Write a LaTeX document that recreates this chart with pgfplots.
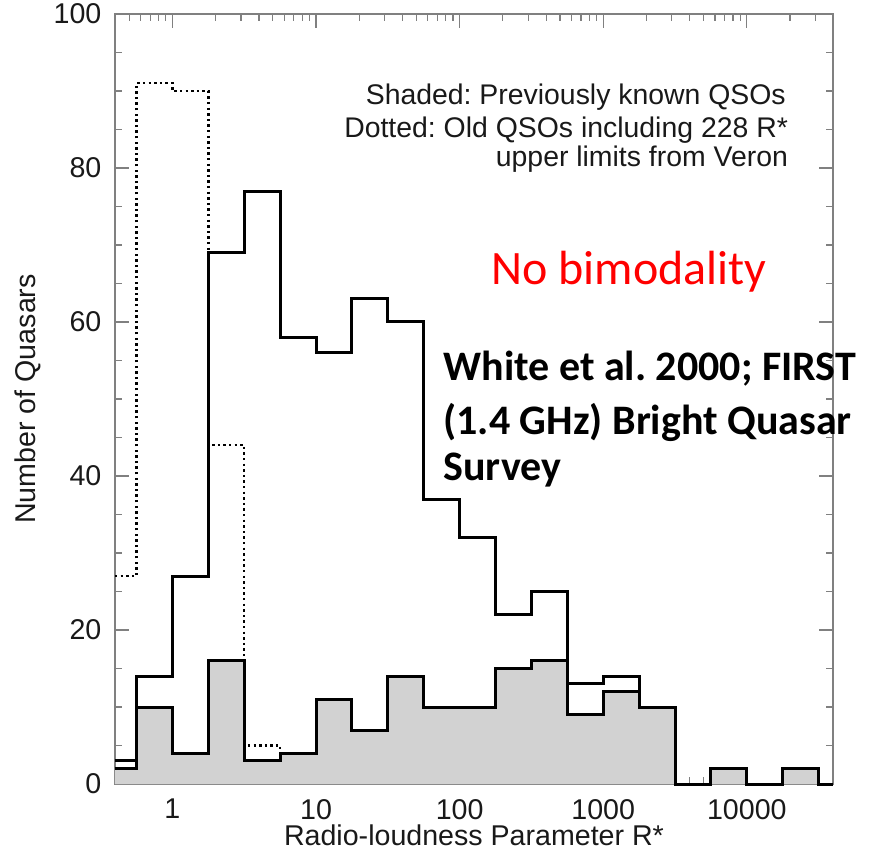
\documentclass[border=0pt]{standalone}
\usepackage{fontspec}
\setmainfont{Liberation Sans}
\newfontfamily\carlito{Carlito}
\usepackage{pgfplots}
\pgfplotsset{compat=1.18}

% previously known QSOs (shaded)
\pgfplotstableread{
x y
0.398107 2
0.562341 10
1 4
1.778279 16
3.162278 3
5.623413 4
10 11
17.78279 7
31.62278 14
56.23413 10
100 10
177.8279 15
316.2278 16
562.3413 9
1000 12
1778.279 10
3162.278 0
5623.413 2
10000 0
17782.79 2
31622.78 0
39810.72 0
}\shaded
% all quasars (solid)
\pgfplotstableread{
x y
0.398107 3
0.562341 14
1 27
1.778279 69
3.162278 77
5.623413 58
10 56
17.78279 63
31.62278 60
56.23413 37
100 32
177.8279 22
316.2278 25
562.3413 13
1000 14
1778.279 10
3162.278 0
5623.413 2
10000 0
17782.79 2
31622.78 0
39810.72 0
}\total
% old QSOs incl. upper limits (dotted)
\pgfplotstableread{
x y
0.398107 27
0.562341 91
1 90
1.778279 44
3.162278 5
5.623413 4
}\old

\begin{document}
\frenchspacing
\begin{tikzpicture}
\useasboundingbox (-57.5pt,-34pt) rectangle (382pt,392pt);
\begin{axis}[
  scale only axis, width=359pt, height=385pt,
  xmode=log, xmin=0.398107, xmax=39810.72, ymin=0, ymax=100,
  xtick={1,10,100,1000,10000}, xticklabels={1,10,100,1000,10000},
  minor xtick={0.4,0.5,0.6,0.7,0.8,0.9,2,3,4,5,6,7,8,9,20,30,40,50,60,70,80,90,200,300,400,500,600,700,800,900,2000,3000,4000,5000,6000,7000,8000,9000,20000,30000},
  ytick={0,20,40,60,80,100}, minor ytick={5,10,15,25,30,35,45,50,55,65,70,75,85,90,95},
  tick pos=both, tick align=inside,
  major tick length=7pt, minor tick length=3.5pt,
  axis line style={draw=gray, line width=0.7pt},
  tick style={gray, line width=0.6pt},
  ticklabel style={font=\fontsize{14.3}{16}\selectfont, text=black!90},
  xticklabel style={yshift=-4pt},
  yticklabel style={xshift=-3.3pt},
  /pgf/number format/assume math mode=true,
  xlabel={Radio-loudness Parameter R*}, ylabel={Number of Quasars},
  every axis x label/.style={at={(axis description cs:0.5,-0.066)}, anchor=center, font=\fontsize{14.3}{16}\selectfont, text=black!90},
  every axis y label/.style={at={(axis description cs:-0.121,0.5)}, anchor=center, rotate=90, font=\fontsize{14.3}{16}\selectfont, text=black!90},
  clip=false,
]
\addplot[const plot, draw=none, fill=gray!35] table {\shaded} \closedcycle;
\addplot[const plot, black, line width=1.5pt] table {\shaded};
\addplot[const plot, black, line width=1.5pt] table {\total};
\addplot[const plot, black, line width=1.2pt, dash pattern=on 1.2pt off 1.6pt] table {\old};

\node[anchor=east, font=\fontsize{14.2}{16}\selectfont, text=black!90] at (rel axis cs:0.944,0.892) {Shaded: Previously known QSOs};
\node[anchor=east, font=\fontsize{14.2}{16}\selectfont, text=black!90] at (rel axis cs:0.947,0.849) {Dotted: Old QSOs including 228 R*};
\node[anchor=east, font=\fontsize{14.2}{16}\selectfont, text=black!90] at (rel axis cs:0.947,0.811) {upper limits from Veron};
\node[font=\carlito\fontsize{24}{27}\selectfont, text=red] at (rel axis cs:0.716,0.665) {No bimodality};
\node[anchor=west, inner sep=0pt, font=\carlito\bfseries\fontsize{21}{24}\selectfont] at (rel axis cs:0.457,0.540) {White et al. 2000; FIRST};
\node[anchor=west, inner sep=0pt, font=\carlito\bfseries\fontsize{21}{24}\selectfont] at (rel axis cs:0.457,0.470) {(1.4 GHz) Bright Quasar};
\node[anchor=west, inner sep=0pt, font=\carlito\bfseries\fontsize{21}{24}\selectfont] at (rel axis cs:0.457,0.408) {Survey};
\end{axis}
\end{tikzpicture}
\end{document}
